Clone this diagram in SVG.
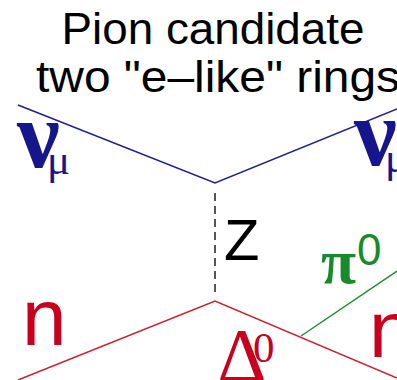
<svg xmlns="http://www.w3.org/2000/svg" width="397" height="380" viewBox="0 0 397 380">
<style>
.title{font-family:"Liberation Sans",Arial,sans-serif;font-size:45px;fill:#000}
.nu{font-family:"Liberation Serif","Times New Roman",serif;font-weight:bold;font-size:96px;fill:#16168c}
.mu{font-family:"Liberation Serif","Times New Roman",serif;font-size:43px;fill:#16168c}
.red{fill:#c8001e}
.sans{font-family:"Liberation Sans",Arial,sans-serif}
.serif{font-family:"Liberation Serif","Times New Roman",serif}
.green{fill:#178a2a}
.lb{stroke:#1f1f8c;stroke-width:1.5;fill:none}
.lr{stroke:#cc1f2e;stroke-width:1.5;fill:none}
.lg{stroke:#1f8a2e;stroke-width:1.5;fill:none}
.lz{stroke:#444;stroke-width:1.8;stroke-dasharray:8,5;fill:none}
</style>
<rect width="397" height="380" fill="#fff"/>
<g id="title">
<text class="title" x="213" y="44" text-anchor="middle" textLength="303" lengthAdjust="spacingAndGlyphs">Pion candidate</text>
<text class="title" x="218" y="92" text-anchor="middle" textLength="364" lengthAdjust="spacingAndGlyphs">two "e–like" rings</text>
</g>
<g id="connectors">
<polyline class="lb" points="18,105 215,183 397,109"/>
<line class="lz" x1="215" y1="193" x2="215" y2="292"/>
<polyline class="lr" points="18,380 215,301 397,378"/>
<line class="lg" x1="301" y1="336" x2="397" y2="271"/>
</g>
<g id="nu-in">
<text x="17" y="167"><tspan class="nu">ν</tspan><tspan class="mu" x="47" y="174">μ</tspan></text>
</g>
<g id="nu-out">
<text x="354" y="165"><tspan class="nu">ν</tspan><tspan class="mu" x="385" y="172">μ</tspan></text>
</g>
<g id="Z">
<text class="sans" x="224" y="260" font-size="58" fill="#000">Z</text>
</g>
<g id="n-in">
<text class="sans red" x="22" y="345" font-size="80">n</text>
</g>
<g id="n-out">
<text class="sans red" x="369" y="357" font-size="80">n</text>
</g>
<g id="delta">
<text class="serif red" x="242" y="381" font-size="76" text-anchor="middle">Δ</text>
<text class="serif red" x="253" y="362" font-size="43">0</text>
</g>
<g id="pi0">
<text class="serif green" x="321" y="283" font-size="64" font-weight="bold">π</text>
<text class="sans green" x="357" y="265" font-size="44">0</text>
</g>
</svg>
